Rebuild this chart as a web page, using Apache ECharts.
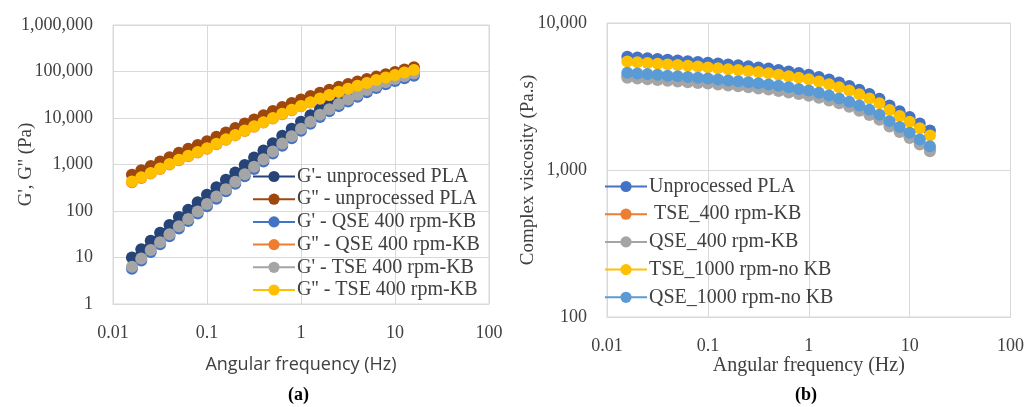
<!DOCTYPE html>
<html>
<head>
<meta charset="utf-8">
<script src="https://cdn.jsdelivr.net/npm/echarts@6/dist/echarts.min.js"></script>
<style>
  html, body { margin: 0; padding: 0; background: #fff; }
  #chart { width: 1027px; height: 407px; }
</style>
</head>
<body>
<div id="chart"></div>
<script>
// frequencies (Hz), shared by both panels
const freq = [0.0159, 0.02, 0.0252, 0.0317, 0.0399, 0.0502, 0.0632, 0.0796, 0.1, 0.126,
  0.159, 0.2, 0.252, 0.317, 0.399, 0.502, 0.632, 0.796, 1.0, 1.26,
  1.59, 2.0, 2.52, 3.17, 3.99, 5.02, 6.32, 7.96, 10.0, 12.6, 15.9];

// panel (a): moduli (Pa)
const gp_unproc = [10, 15.1, 22.9, 33.9, 50.1, 74.1, 107, 155, 224, 324,
  468, 676, 977, 1410, 2000, 2880, 4170, 5890, 8320, 11500,
  15500, 20000, 25100, 30900, 38000, 46800, 56200, 66100, 75900, 86100, 96600];
const gpp_unproc = [600, 750, 930, 1160, 1440, 1780, 2190, 2630, 3160, 3940,
  4900, 6100, 7590, 9330, 11500, 14100, 17200, 20900, 25100, 29900,
  35100, 40700, 46800, 53700, 61000, 69200, 77600, 87100, 97700, 110000, 123000];
const gp_qse400 = [5.7, 8.6, 13.1, 19.3, 28.5, 42.2, 61, 88, 127, 184,
  266, 385, 556, 802, 1160, 1720, 2540, 3660, 5300, 7490,
  10500, 14000, 18000, 22600, 28500, 35800, 44100, 53000, 62300, 71500, 81200];
const gpp_qse400 = [415, 515, 640, 800, 995, 1230, 1510, 1820, 2190, 2730,
  3400, 4230, 5260, 6480, 7970, 9800, 12100, 14700, 17800, 21500,
  25800, 30700, 36000, 41900, 48500, 55800, 64000, 72600, 82400, 93600, 106000];
const gp_tse400 = [6.3, 9.5, 14.5, 21.4, 31.6, 46.8, 67.6, 97.7, 141, 204,
  295, 427, 617, 891, 1290, 1910, 2820, 4070, 5890, 8320,
  11700, 15500, 20000, 25100, 31600, 39800, 49000, 58900, 69200, 79400, 90200];
const gpp_tse400 = [430, 530, 660, 820, 1020, 1260, 1550, 1860, 2240, 2790,
  3470, 4320, 5370, 6610, 8130, 10000, 12300, 15000, 18200, 21900,
  26300, 31300, 36700, 42700, 49500, 56900, 65300, 74100, 84100, 95500, 108000];

// panel (b): complex viscosity (Pa.s)
const eta_unproc = [5890, 5820, 5750, 5690, 5620, 5560, 5500, 5430, 5370, 5300,
  5220, 5150, 5070, 4990, 4900, 4790, 4680, 4570, 4450, 4300,
  4120, 3940, 3730, 3520, 3290, 3050, 2750, 2510, 2290, 2070, 1860];
const eta_tse400 = [4360, 4310, 4260, 4210, 4160, 4110, 4070, 4020, 3970, 3920,
  3860, 3810, 3750, 3690, 3630, 3540, 3460, 3380, 3290, 3180,
  3050, 2920, 2760, 2600, 2430, 2260, 2040, 1860, 1690, 1530, 1380];
const eta_qse400 = [4240, 4190, 4140, 4100, 4050, 4000, 3960, 3910, 3870, 3820,
  3760, 3710, 3650, 3590, 3530, 3450, 3370, 3290, 3200, 3100,
  2970, 2840, 2690, 2530, 2370, 2200, 1980, 1810, 1650, 1490, 1340];
const eta_tse1000 = [5480, 5410, 5350, 5290, 5230, 5170, 5110, 5050, 4990, 4930,
  4850, 4790, 4710, 4640, 4560, 4450, 4350, 4250, 4140, 4000,
  3830, 3660, 3470, 3270, 3060, 2840, 2560, 2330, 2130, 1920, 1720];
const eta_qse1000 = [4590, 4540, 4490, 4440, 4380, 4340, 4290, 4240, 4190, 4130,
  4070, 4020, 3950, 3890, 3820, 3740, 3650, 3560, 3470, 3350,
  3210, 3070, 2910, 2750, 2570, 2380, 2150, 1960, 1790, 1610, 1450];

const namesA = ["G'- unprocessed PLA", "G'' - unprocessed PLA", "G' - QSE 400 rpm-KB",
  "G'' - QSE 400 rpm-KB", "G' - TSE 400 rpm-KB", "G'' - TSE 400 rpm-KB"];
const namesB = ["Unprocessed PLA", " TSE_400 rpm-KB", "QSE_400 rpm-KB",
  "TSE_1000 rpm-no KB", "QSE_1000 rpm-no KB"];

const serif = "'Liberation Serif', 'DejaVu Serif', serif";
const gridColor = "#d9d9d9";

const pairs = (ys) => freq.map((f, i) => [f, ys[i]]);

const mkSeries = (name, ys, color, idx) => ({
  name: name,
  type: "line",
  xAxisIndex: idx,
  yAxisIndex: idx,
  data: pairs(ys),
  symbol: "circle",
  symbolSize: 12,
  showSymbol: true,
  lineStyle: { color: color, width: 2.5 },
  itemStyle: { color: color },
  animation: false,
});

const xAxisBase = (idx, titleFont, titleSize, gap) => ({
  type: "log",
  logBase: 10,
  gridIndex: idx,
  min: 0.01,
  max: 100,
  interval: 1,
  name: "Angular frequency (Hz)",
  nameLocation: "middle",
  nameGap: gap,
  nameMoveOverlap: false,
  nameTextStyle: { fontFamily: titleFont, fontSize: titleSize, color: "#404040" },
  axisLine: { show: true, lineStyle: { color: gridColor, width: 1 } },
  axisTick: { show: false },
  splitLine: { show: true, lineStyle: { color: gridColor, width: 1 } },
  minorSplitLine: { show: false },
  axisLabel: {
    fontFamily: serif, fontSize: 18, color: "#404040", margin: 20,
    formatter: (v) => String(v),
  },
});

const yAxisBase = (idx, min, max, name, gap, size) => ({
  type: "log",
  logBase: 10,
  gridIndex: idx,
  min: min,
  max: max,
  interval: 1,
  name: name,
  nameLocation: "middle",
  nameGap: gap,
  nameMoveOverlap: false,
  nameTextStyle: { fontFamily: serif, fontSize: size, color: "#404040" },
  axisLine: { show: false },
  axisTick: { show: false },
  splitLine: { show: true, lineStyle: { color: gridColor, width: 1 } },
  axisLabel: {
    fontFamily: serif, fontSize: 18, color: "#404040", margin: 20,
    formatter: (v) => Number(v).toLocaleString("en-US"),
  },
});

const chart = echarts.init(document.getElementById("chart"), null, { renderer: "canvas" });

chart.setOption({
  backgroundColor: "#fff",
  animation: false,
  grid: [
    { left: 113, top: 25, width: 376, height: 279, show: true, borderColor: gridColor, borderWidth: 1 },
    { left: 607, top: 23, width: 405, height: 294, show: true, borderColor: gridColor, borderWidth: 1 },
  ],
  xAxis: [
    xAxisBase(0, "'Open Sans', sans-serif", 18, 52),
    xAxisBase(1, serif, 20, 39),
  ],
  yAxis: [
    yAxisBase(0, 1, 1000000, "G', G'' (Pa)", 77, 19),
    yAxisBase(1, 100, 10000, "Complex viscosity (Pa.s)", 69, 19),
  ],
  legend: [
    {
      data: namesA,
      orient: "vertical",
      left: 252,
      top: 166.5,
      itemWidth: 42,
      itemHeight: 14,
      itemGap: 2.7,
      textStyle: { fontFamily: serif, fontSize: 20, color: "#404040", lineHeight: 20, padding: [0, 0, 0, -3] },
      padding: 0,
    },
    {
      data: namesB,
      orient: "vertical",
      left: 604,
      top: 176.5,
      itemWidth: 42,
      itemHeight: 14,
      itemGap: 7.7,
      textStyle: { fontFamily: serif, fontSize: 20, color: "#404040", lineHeight: 20, padding: [0, 0, 0, -3] },
      padding: 0,
    },
  ],
  graphic: [
    { type: "text", left: 288, top: 386, style: { text: "(a)", font: "bold 18px " + serif, fill: "#000" } },
    { type: "text", left: 795, top: 386, style: { text: "(b)", font: "bold 18px " + serif, fill: "#000" } },
  ],
  series: [
    mkSeries(namesA[0], gp_unproc, "#264478", 0),
    mkSeries(namesA[1], gpp_unproc, "#9e480e", 0),
    mkSeries(namesA[2], gp_qse400, "#4472c4", 0),
    mkSeries(namesA[3], gpp_qse400, "#ed7d31", 0),
    mkSeries(namesA[4], gp_tse400, "#a5a5a5", 0),
    mkSeries(namesA[5], gpp_tse400, "#ffc000", 0),
    mkSeries(namesB[0], eta_unproc, "#4472c4", 1),
    mkSeries(namesB[1], eta_tse400, "#ed7d31", 1),
    mkSeries(namesB[2], eta_qse400, "#a5a5a5", 1),
    mkSeries(namesB[3], eta_tse1000, "#ffc000", 1),
    mkSeries(namesB[4], eta_qse1000, "#5b9bd5", 1),
  ],
});
</script>
</body>
</html>
